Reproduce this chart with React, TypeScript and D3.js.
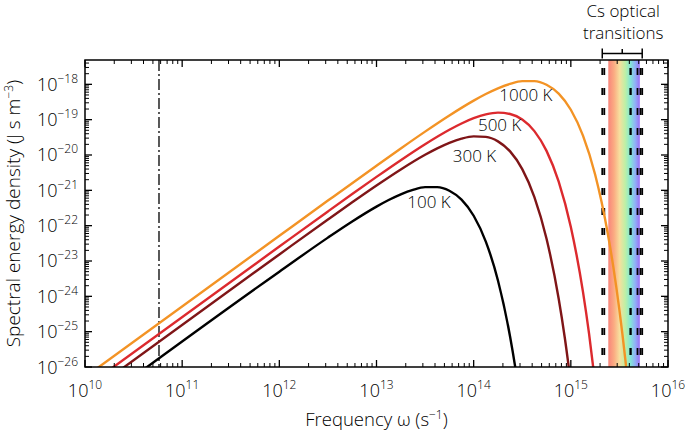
import React from "react";
import * as d3 from "d3";

// ---------- data (log10 values) ----------
const logOmega1000 = [10, 12, 12.5, 13, 13.25, 13.5, 13.75, 14, 14.125, 14.25, 14.375, 14.5, 14.625, 14.75, 14.875, 15, 15.125, 15.25, 15.375, 15.4375, 15.5, 15.5625, 15.625];
const logU1000 = [-26.2853, -22.2869, -21.2905, -20.3019, -19.815, -19.3387, -18.8818, -18.4616, -18.275, -18.113, -17.9864, -17.9106, -17.9084, -18.0116, -18.2635, -18.7192, -19.4508, -20.5512, -22.1436, -23.1738, -24.3922, -25.8284, -27.5158];

const logOmega500 = [10, 12, 12.5, 12.75, 13, 13.25, 13.5, 13.75, 13.875, 14, 14.125, 14.25, 14.375, 14.5, 14.625, 14.75, 14.875, 15, 15.125, 15.1875, 15.25];
const logU500 = [-26.5863, -22.5895, -21.5967, -21.105, -20.6198, -20.1465, -19.6953, -19.286, -19.1085, -18.9594, -18.8512, -18.8023, -18.8387, -18.9967, -19.3242, -19.883, -20.7523, -22.0366, -23.8744, -25.0563, -26.4501];

const logOmega300 = [10, 12, 12.5, 12.75, 13, 13.25, 13.5, 13.625, 13.75, 13.875, 14, 14.125, 14.25, 14.375, 14.5, 14.625, 14.75, 14.875, 14.9375, 15];
const logU300 = [-26.8081, -22.8136, -21.8257, -21.3395, -20.8645, -20.4101, -19.9946, -19.8119, -19.6554, -19.5367, -19.4725, -19.4869, -19.6138, -19.8983, -20.3987, -21.1901, -22.3702, -24.0691, -25.165, -26.4596];

const logOmega100 = [10, 12, 12.5, 12.75, 13, 13.125, 13.25, 13.375, 13.5, 13.625, 13.75, 13.875, 14, 14.125, 14.25, 14.375, 14.4375, 14.5];
const logU100 = [-27.2854, -23.3019, -22.3387, -21.8818, -21.4616, -21.275, -21.113, -20.9864, -20.9106, -20.9084, -21.0116, -21.2635, -21.7192, -22.4508, -23.5512, -25.1436, -26.1738, -27.3922];

const seriesNames = ["1000 K", "500 K", "300 K", "100 K"];
const labelOmega = [3.45e14, 1.85e14, 1.02e14, 3.47e13];
const labelU = [5.0e-19, 7.1e-20, 9.5e-21, 4.7e-22];

// Cs transitions (angular frequency, s^-1)
const csHyperfine = 5.775e10;
const csOptical = [2.106e15, 2.210e15, 4.101e15, 4.135e15, 4.855e15, 5.208e15, 5.428e15];
const visibleBand = [2.43e15, 5.13e15];

const xTickExps = [10, 11, 12, 13, 14, 15, 16];
const yTickExps = [-26, -25, -24, -23, -22, -21, -20, -19, -18];
const xDomain = [1e10, 1e16];
const yDomain = [1e-26, 4.88e-18];

// ---------- layout ----------
const W = 685, H = 435;
const L = 85, R = 668, T = 60, B = 367;
const FONT = "'Open Sans', 'DejaVu Sans', sans-serif";
const TXT = "#000";

const colors = ["#f39325", "#dc2a2e", "#7f1517", "#000000"];

export default function App() {
  const x = d3.scaleLog().domain(xDomain).range([L, R]);
  const y = d3.scaleLog().domain(yDomain).range([B, T]);

  const series = [
    { lo: logOmega1000, lu: logU1000 },
    { lo: logOmega500, lu: logU500 },
    { lo: logOmega300, lu: logU300 },
    { lo: logOmega100, lu: logU100 },
  ];

  const line = d3
    .line<[number, number]>()
    .x((d) => x(Math.pow(10, d[0])))
    .y((d) => y(Math.pow(10, d[1])))
    .curve(d3.curveMonotoneX);

  // ticks
  const xMajor = xTickExps.map((e) => Math.pow(10, e));
  const xMinor: number[] = [];
  xTickExps.slice(0, -1).forEach((e) => {
    for (let k = 2; k <= 9; k++) xMinor.push(k * Math.pow(10, e));
  });
  const yMajor = yTickExps.map((e) => Math.pow(10, e));
  const yMinor: number[] = [];
  yTickExps.forEach((e) => {
    for (let k = 2; k <= 9; k++) {
      const v = k * Math.pow(10, e);
      if (y(v) > T + 1.5) yMinor.push(v);
    }
  });

  const maj = 7, min = 4;
  const tickStroke = "#000";

  const bx0 = x(csOptical[0]);
  const bx1 = x(csOptical[csOptical.length - 1]);
  const bxc = (bx0 + bx1) / 2;

  return (
    <svg
      width={W}
      height={H}
      style={{ position: "absolute", left: 0, top: 0, background: "#fff" }}
      fontFamily={FONT}
      fontWeight={300}
    >
      <defs>
        <clipPath id="plot">
          <rect x={L} y={T} width={R - L} height={B - T} />
        </clipPath>
        <linearGradient id="rainbow" x1="0" x2="1" y1="0" y2="0">
          <stop offset="0%" stopColor="#f9857b" />
          <stop offset="18%" stopColor="#fbab82" />
          <stop offset="36%" stopColor="#f7df9e" />
          <stop offset="54%" stopColor="#bdf0a6" />
          <stop offset="70%" stopColor="#84e6d6" />
          <stop offset="85%" stopColor="#8fb2f6" />
          <stop offset="100%" stopColor="#9b6ff6" />
        </linearGradient>
      </defs>

      {/* visible band */}
      <rect
        x={x(visibleBand[0])}
        y={T}
        width={x(visibleBand[1]) - x(visibleBand[0])}
        height={B - T}
        fill="url(#rainbow)"
      />

      {/* Cs optical transitions */}
      {csOptical.map((w, i) => (
        <line
          key={"cs" + i}
          x1={x(w)}
          x2={x(w)}
          y1={T}
          y2={B}
          stroke="#000"
          strokeWidth={1.8}
          strokeDasharray="7,13"
          strokeDashoffset={12}
        />
      ))}

      {/* hyperfine dash-dot */}
      <line
        x1={x(csHyperfine)}
        x2={x(csHyperfine)}
        y1={T}
        y2={B}
        stroke="#000"
        strokeWidth={1.3}
        strokeDasharray="11,3,2,3"
      />

      {/* curves */}
      <g clipPath="url(#plot)">
        {series.map((s, i) => (
          <path
            key={"c" + i}
            d={line(s.lo.map((v, j) => [v, s.lu[j]] as [number, number])) || ""}
            fill="none"
            stroke={colors[i]}
            strokeWidth={2.4}
          />
        ))}
      </g>

      {/* curve labels */}
      {seriesNames.map((n, i) => (
        <text
          key={"l" + i}
          x={x(labelOmega[i])}
          y={y(labelU[i])}
          textAnchor="middle"
          dominantBaseline="central"
          fontSize={17}
          fill={TXT}
        >
          {n}
        </text>
      ))}

      {/* frame */}
      <rect x={L} y={T} width={R - L} height={B - T} fill="none" stroke="#000" strokeWidth={1.5} />

      {/* x ticks */}
      {xMajor.map((v, i) => (
        <g key={"xM" + i}>
          <line x1={x(v)} x2={x(v)} y1={B} y2={B - maj} stroke={tickStroke} strokeWidth={1.3} />
          <line x1={x(v)} x2={x(v)} y1={T} y2={T + maj} stroke={tickStroke} strokeWidth={1.3} />
        </g>
      ))}
      {xMinor.map((v, i) => (
        <g key={"xm" + i}>
          <line x1={x(v)} x2={x(v)} y1={B} y2={B - min} stroke={tickStroke} strokeWidth={1} />
          <line x1={x(v)} x2={x(v)} y1={T} y2={T + min} stroke={tickStroke} strokeWidth={1} />
        </g>
      ))}
      {/* y ticks */}
      {yMajor.map((v, i) => (
        <g key={"yM" + i}>
          <line x1={L} x2={L + maj} y1={y(v)} y2={y(v)} stroke={tickStroke} strokeWidth={1.3} />
          <line x1={R} x2={R - maj} y1={y(v)} y2={y(v)} stroke={tickStroke} strokeWidth={1.3} />
        </g>
      ))}
      {yMinor.map((v, i) => (
        <g key={"ym" + i}>
          <line x1={L} x2={L + min} y1={y(v)} y2={y(v)} stroke={tickStroke} strokeWidth={1} />
          <line x1={R} x2={R - min} y1={y(v)} y2={y(v)} stroke={tickStroke} strokeWidth={1} />
        </g>
      ))}

      {/* x tick labels */}
      {xTickExps.map((e, i) => (
        <text key={"xl" + i} x={x(Math.pow(10, e))} y={397} textAnchor="middle" fontSize={18} fill={TXT}>
          <tspan>10</tspan>
          <tspan dy={-8} fontSize={12}>{e}</tspan>
        </text>
      ))}
      {/* y tick labels */}
      {yTickExps.map((e, i) => (
        <text key={"yl" + i} x={78} y={y(Math.pow(10, e)) + 6.5} textAnchor="end" fontSize={18} fill={TXT}>
          <tspan>10</tspan>
          <tspan dy={-8} fontSize={12}>{"\u2212" + Math.abs(e)}</tspan>
        </text>
      ))}

      {/* axis titles */}
      <text x={(L + R) / 2} y={426} textAnchor="middle" fontSize={18.5} fill={TXT}>
        <tspan>Frequency ω (s</tspan>
        <tspan dy={-7} fontSize={12}>{"\u22121"}</tspan>
        <tspan dy={7}>)</tspan>
      </text>
      <text
        transform={`translate(20, ${(T + B) / 2}) rotate(-90)`}
        textAnchor="middle"
        fontSize={19}
        fill={TXT}
      >
        <tspan>Spectral energy density (J s m</tspan>
        <tspan dy={-7} fontSize={12}>{"\u22123"}</tspan>
        <tspan dy={7}>)</tspan>
      </text>

      {/* Cs bracket */}
      <g stroke="#000" strokeWidth={1.5} fill="none">
        <line x1={bx0} x2={bx1} y1={53.5} y2={53.5} />
        <line x1={bx0} x2={bx0} y1={48.5} y2={58.5} />
        <line x1={bx1} x2={bx1} y1={48.5} y2={58.5} />
        <line x1={bxc} x2={bxc} y1={49} y2={53.5} />
      </g>
      <text x={bxc + 1} y={16.5} textAnchor="middle" fontSize={17} fill={TXT}>Cs optical</text>
      <text x={bxc + 1} y={39} textAnchor="middle" fontSize={17} fill={TXT}>transitions</text>
    </svg>
  );
}
